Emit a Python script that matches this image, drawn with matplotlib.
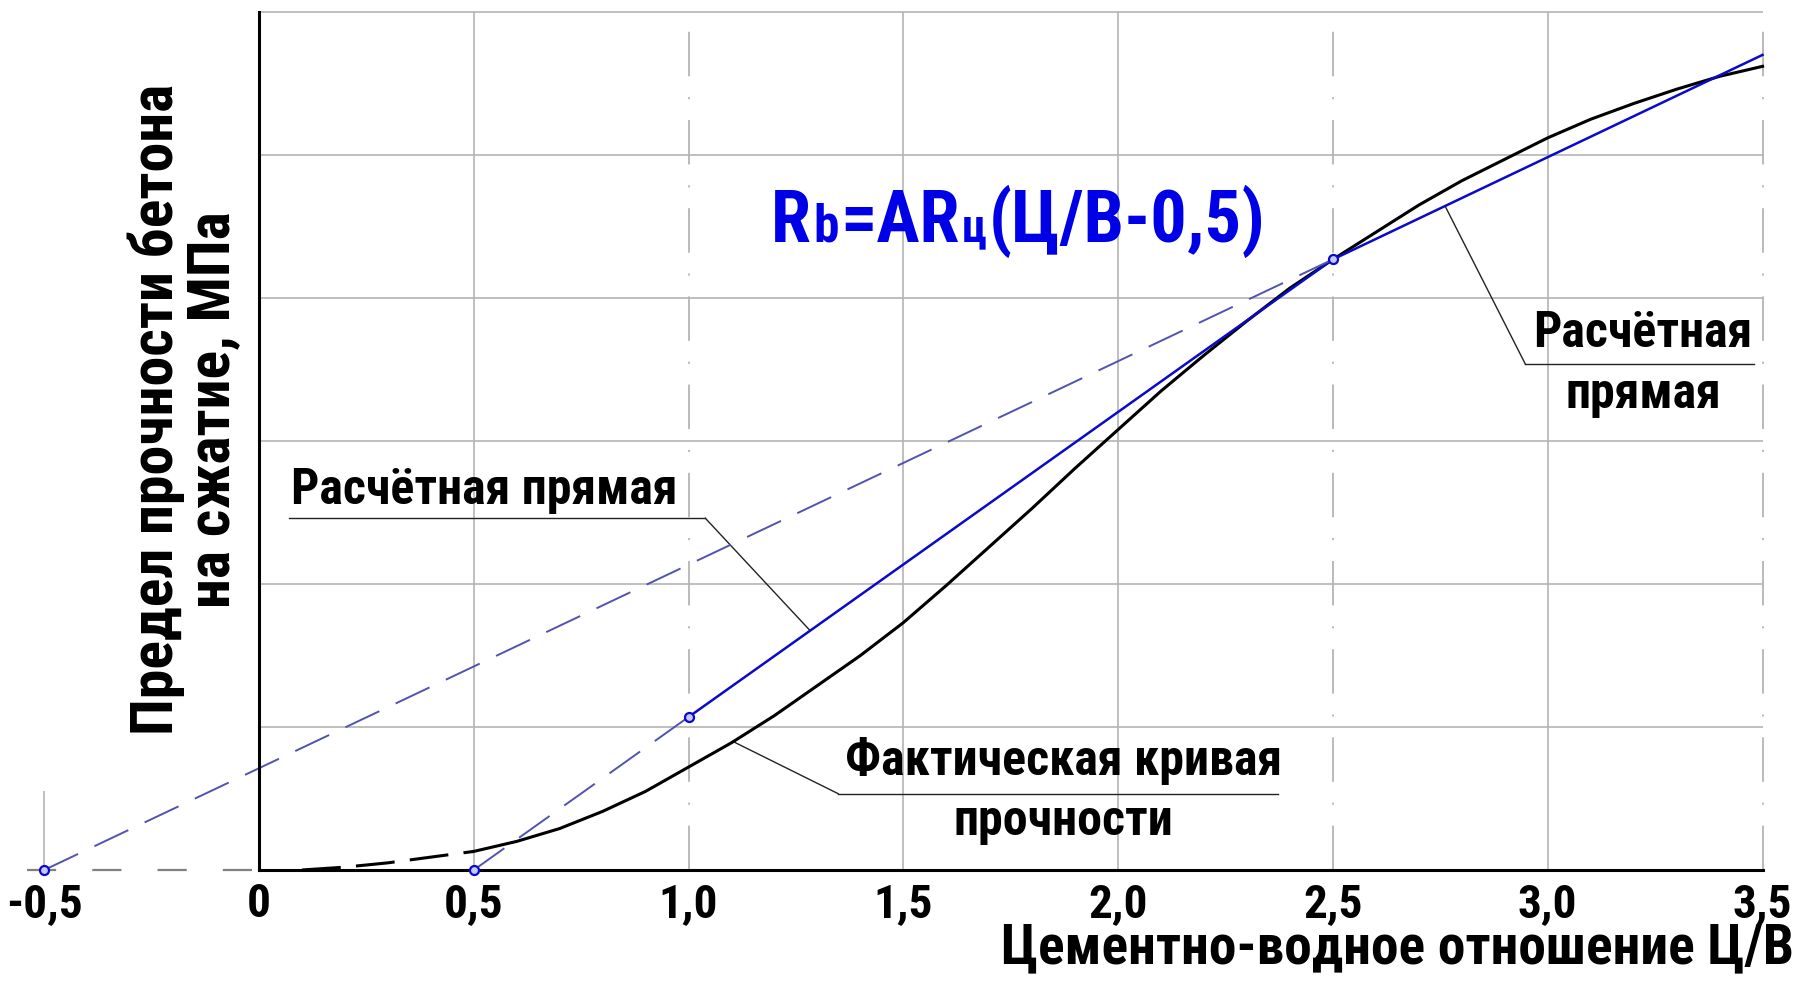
import matplotlib
matplotlib.use('Agg')
import matplotlib.pyplot as plt
from matplotlib import font_manager
import numpy as np

plt.rcParams['font.family'] = ['Liberation Sans', 'DejaVu Sans']
plt.rcParams['lines.scale_dashes'] = False

# узкий шрифт, похожий на Arial Narrow Bold
names = {f.name for f in font_manager.fontManager.ttflist}
FAM, SC = ['Liberation Sans', 'DejaVu Sans'], 0.84
for cand in ['Roboto Condensed', 'PT Sans Narrow', 'Open Sans Condensed']:
    if cand in names:
        FAM, SC = [cand, 'Liberation Sans', 'DejaVu Sans'], 1.0
        break

# фактическая кривая прочности (Ц/В -> прочность, в делениях сетки)
cv_actual = [0.10, 0.20, 0.30, 0.40, 0.50, 0.60, 0.70, 0.80, 0.90, 1.00,
             1.10, 1.20, 1.30, 1.40, 1.50, 1.60, 1.70, 1.80, 1.90, 2.00,
             2.10, 2.20, 2.30, 2.40, 2.50, 2.60, 2.70, 2.80, 2.90, 3.00,
             3.10, 3.20, 3.30, 3.40, 3.50]
r_actual = [0.00, 0.02, 0.05, 0.09, 0.13, 0.20, 0.29, 0.41, 0.55, 0.72,
            0.89, 1.08, 1.29, 1.50, 1.73, 1.99, 2.26, 2.53, 2.81, 3.08,
            3.35, 3.60, 3.84, 4.07, 4.27, 4.46, 4.65, 4.82, 4.97, 5.12,
            5.25, 5.36, 5.46, 5.55, 5.62]

# расчётные прямые
line1_x = [0.5, 1.0, 2.5]
line1_y = [0.0, 1.07, 4.27]
line2_x = [-0.5, 2.5, 3.5]
line2_y = [0.0, 4.27, 5.70]

xtick_vals = [-0.5, 0.0, 0.5, 1.0, 1.5, 2.0, 2.5, 3.0, 3.5]
xtick_labels = ['-0,5', '0', '0,5', '1,0', '1,5', '2,0', '2,5', '3,0', '3,5']
grid_y = [1, 2, 3, 4, 5, 6]
grid_x_solid = [0.5, 1.5, 2.0, 3.0]
grid_x_dashdot = [1.0, 2.5, 3.5]

BLUE = '#0a0ac8'
BLUE_D = '#5252b0'
GRID = '#b4b4b4'

fig = plt.figure(figsize=(18.03, 9.90), dpi=100)
ax = fig.add_axes([0, 0, 1, 1])
ax.set_xlim(-0.6029, 3.5942)
ax.set_ylim(-0.8392, 6.0839)
ax.patch.set_visible(False)

# сетка
ax.hlines(grid_y, 0, 3.5, color=GRID, lw=1.2, zorder=1)
ax.vlines(grid_x_solid, 0, 6, color=GRID, lw=1.2, zorder=1)
ax.vlines(grid_x_dashdot, 0, 6, color=GRID, lw=1.3, zorder=1,
          linestyles=[(0, (32, 15, 1.5, 15))])
ax.plot([-0.54, 0], [0, 0], color='#808080', lw=1.6, dashes=(21, 26), zorder=1)
ax.vlines([-0.5], 0, 0.55, color=GRID, lw=1.2, zorder=1)

# оси
for s in ['top', 'right']:
    ax.spines[s].set_visible(False)
ax.spines['left'].set_position(('data', 0))
ax.spines['bottom'].set_position(('data', 0))
ax.spines['left'].set_bounds(0, 6)
ax.spines['bottom'].set_bounds(0, 3.5)
for s in ['left', 'bottom']:
    ax.spines[s].set_linewidth(2.2)
    ax.spines[s].set_zorder(4)
ax.set_yticks([])
ax.set_xticks(xtick_vals, xtick_labels)
ax.tick_params(axis='x', length=0, pad=9, labelsize=34 * SC)
for lab in ax.get_xticklabels():
    lab.set_fontweight('bold')
    lab.set_family(FAM)

# фактическая кривая: пунктир до 0,5, далее сплошная
k = cv_actual.index(0.50)
ax.plot(cv_actual[:k + 1], r_actual[:k + 1], color='black', lw=2.2,
        dashes=(28, 11), zorder=3)
ax.plot(cv_actual[k:], r_actual[k:], color='black', lw=2.2, zorder=3,
        solid_joinstyle='round')

# расчётные прямые
ax.plot(line1_x[:2], line1_y[:2], color=BLUE_D, lw=1.4, dashes=(27, 13), zorder=3)
ax.plot(line1_x[1:], line1_y[1:], color=BLUE, lw=1.8, zorder=3)
ax.plot(line2_x[:2], line2_y[:2], color=BLUE_D, lw=1.4, dashes=(27, 13), zorder=3)
ax.plot(line2_x[1:], line2_y[1:], color=BLUE, lw=1.8, zorder=3)
ax.plot(line1_x[:2] + [line2_x[0], line2_x[1]], line1_y[:2] + [line2_y[0], line2_y[1]],
        ls='none', marker='o', ms=6.5, mfc='#c8c8ff', mec=BLUE, mew=1.6, zorder=5)

# выноски
lead = dict(color='#222222', lw=1.0, zorder=2)
tx = dict(fontsize=36 * SC, fontweight='bold', family=FAM)
ax.text(0.074, 2.56, 'Расчётная прямая', ha='left', va='baseline', **tx)
ax.plot([0.071, 1.039], [2.46, 2.46], **lead)
ax.plot([1.039, 1.283], [2.46, np.interp(1.283, line1_x, line1_y)], **lead)

ax.text(3.222, 3.66, 'Расчётная', ha='center', va='baseline', **tx)
ax.text(3.222, 3.23, 'прямая', ha='center', va='baseline', **tx)
ax.plot([2.948, 3.479], [3.537, 3.537], **lead)
ax.plot([2.948, 2.761], [3.537, np.interp(2.761, line2_x, line2_y)], **lead)

ax.text(1.873, 0.662, 'Фактическая кривая', ha='center', va='baseline', **tx)
ax.text(1.873, 0.242, 'прочности', ha='center', va='baseline', **tx)
ax.plot([1.348, 2.372], [0.534, 0.534], **lead)
ax.plot([1.348, 1.104], [0.534, np.interp(1.104, cv_actual, r_actual)], **lead)

# подписи осей
ax.text(-0.173, 3.22, 'Предел прочности бетона\nна сжатие, МПа', fontsize=43 * SC,
        fontweight='bold', family=FAM, rotation=90, ha='center', va='center',
        multialignment='center', linespacing=1.0)
ax.text(3.573, -0.65, 'Цементно-водное отношение Ц/В', fontsize=40 * SC,
        fontweight='bold', family=FAM, ha='right', va='baseline')

# формула Rb=ARц(Ц/В-0,5)
fig.canvas.draw()
renderer = fig.canvas.get_renderer()
inv = ax.transData.inverted()
x = 1.192
for s, size in [('R', 52), ('b', 37), ('=AR', 52), ('ц', 33), ('(Ц/В-0,5)', 52)]:
    t = ax.text(x, 4.394, s, fontsize=size * SC, fontweight='bold', family=FAM,
                color='#0000e6', ha='left', va='baseline')
    bb = t.get_window_extent(renderer)
    x = inv.transform((bb.x1 + 2, 0))[0]

fig.savefig('out.png', dpi=100)
